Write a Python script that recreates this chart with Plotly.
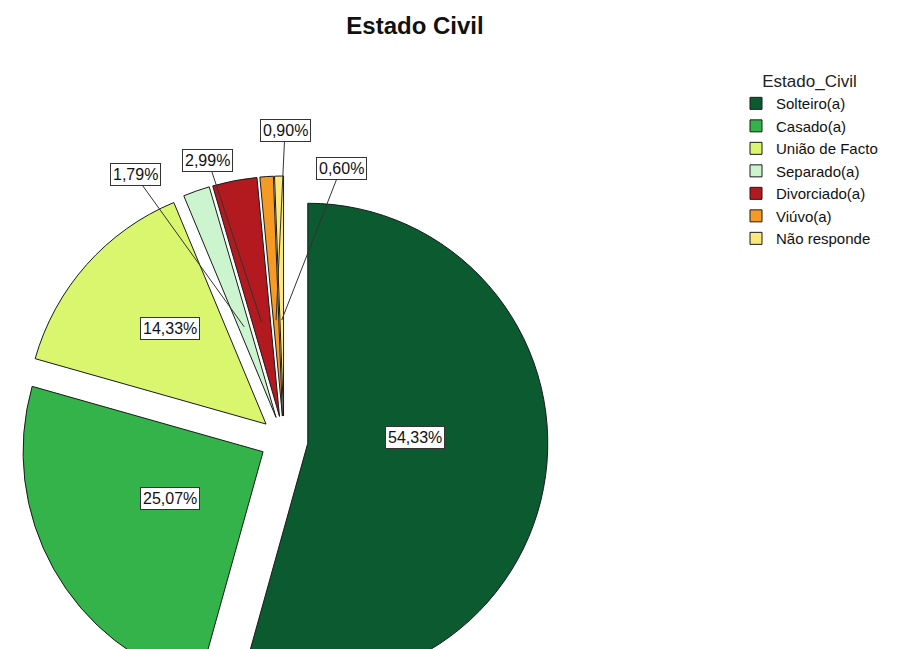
import numpy as np
import plotly.graph_objects as go

# data
categorias = ['Solteiro(a)', 'Casado(a)', 'União de Facto', 'Separado(a)',
              'Divorciado(a)', 'Viúvo(a)', 'Não responde']
percentagens = [54.33, 25.07, 14.33, 1.79, 2.99, 0.90, 0.60]
rotulos = ['54,33%', '25,07%', '14,33%', '1,79%', '2,99%', '0,90%', '0,60%']

cores = ['#0b5a30', '#33b34a', '#daf56e', '#ccf5cf', '#b21a1f', '#f59a23', '#fbe77a']

# page geometry (pixels on the page; the body has an 8px margin)
W, H = 907, 700
OFF = 8
CX, CY, R = 284, 440, 240
PULL = 0.1
S = 2 * R * (1 + PULL)


def px2paper(px, py):
    return (px - OFF) / W, 1 - (py - OFF) / H


fig = go.Figure()
fig.add_trace(go.Pie(
    labels=categorias, values=percentagens,
    sort=False, direction='clockwise', rotation=0,
    pull=[PULL] * len(percentagens),
    marker=dict(colors=cores, line=dict(color='#1a1a1a', width=1)),
    textinfo='none', hoverinfo='label+percent',
    domain=dict(x=[(CX - OFF - S / 2) / W, (CX - OFF + S / 2) / W],
                y=[1 - (CY - OFF + S / 2) / H, 1 - (CY - OFF - S / 2) / H]),
))

# boxed percentage labels, placed along each slice bisector
total = sum(percentagens)
inicio = np.concatenate([[0], np.cumsum(percentagens)[:-1]]) / total
meio = inicio + np.array(percentagens) / total / 2
ang = 2 * np.pi * meio
dx, dy = np.sin(ang), -np.cos(ang)

frac = [0.45, 0.6, 0.65, 0.4, 0.4, 0.4, 0.4]
ajuste = [(0, -20), (2, -12), (-9, 8), None, None, None, None]   # nudges for inside labels
caixas = [None, None, None, (135, 175), (208, 160), (285, 130), (341, 168)]  # outside boxes

for i, txt in enumerate(rotulos):
    px = CX + (PULL + frac[i]) * R * dx[i]
    py = CY + (PULL + frac[i]) * R * dy[i]
    ann = dict(xref='paper', yref='paper', text=txt,
               font=dict(family='Liberation Sans', size=16, color='#111111'),
               bgcolor='white', bordercolor='#333333', borderwidth=1, borderpad=2)
    if caixas[i] is None:
        x, y = px2paper(px + ajuste[i][0], py + ajuste[i][1])
        ann.update(x=x, y=y, showarrow=False)
    else:
        x, y = px2paper(px, py)
        ann.update(x=x, y=y, showarrow=True, arrowhead=0, arrowwidth=1,
                   arrowcolor='#333333', standoff=0,
                   ax=caixas[i][0] - px, ay=caixas[i][1] - py)
    fig.add_annotation(**ann)

tx, ty = px2paper(415, 26)
lx, ly = px2paper(736, 65)

fig.update_layout(
    width=W, height=H,
    paper_bgcolor='white', plot_bgcolor='white',
    margin=dict(l=0, r=0, t=0, b=0),
    title=dict(text='Estado Civil', x=tx, y=ty, xanchor='center', yanchor='middle',
               font=dict(family='Liberation Sans', size=24, color='#111111', weight='bold')),
    legend=dict(
        title=dict(text='Estado_Civil', side='top center',
                   font=dict(family='Liberation Sans', size=17, color='#222222')),
        x=lx, y=ly, xanchor='left', yanchor='top',
        font=dict(family='Liberation Sans', size=15, color='#111111'),
        bgcolor='rgba(0,0,0,0)', traceorder='normal',
    ),
)

fig.write_html("out.html")
